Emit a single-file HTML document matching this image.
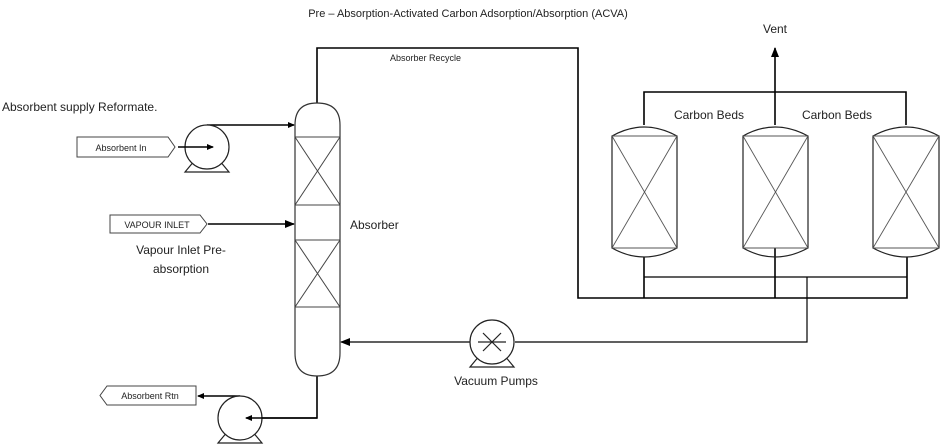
<!DOCTYPE html>
<html><head><style>
html,body{margin:0;padding:0;background:#fff;}
svg{display:block;}
text{font-family:"Liberation Sans",Arial,sans-serif;fill:#222;}
</style></head><body>
<svg width="940" height="446" viewBox="0 0 940 446" xmlns="http://www.w3.org/2000/svg">
<defs>
<marker id="ar" markerWidth="10" markerHeight="8" refX="9" refY="4" orient="auto" markerUnits="userSpaceOnUse">
<path d="M0,0 L10,4 L0,8 z" fill="#000"/></marker>
<marker id="as" markerWidth="7" markerHeight="6" refX="6" refY="3" orient="auto" markerUnits="userSpaceOnUse">
<path d="M0,0 L7,3 L0,6 z" fill="#000"/></marker>
</defs>
<text x="468" y="17" font-size="11" text-anchor="middle">Pre – Absorption-Activated Carbon Adsorption/Absorption (ACVA)</text>
<g fill="none" stroke="#000" stroke-width="1.6">
<polyline points="317,103 317,48 578,48 578,298 907,298 907,257"/>
<line x1="644" y1="298" x2="644" y2="257"/>
<line x1="775" y1="298" x2="775" y2="248"/>
<polyline points="644,125 644,92 906,92 906,125"/>
<line x1="775" y1="125" x2="775" y2="48" marker-end="url(#ar)"/>
<polyline points="317,376 317,418 246,418" marker-end="url(#as)"/>
<line x1="240" y1="396" x2="198" y2="396" marker-end="url(#as)"/>
<line x1="207" y1="125" x2="294" y2="125" marker-end="url(#as)"/>
<line x1="208" y1="224" x2="294" y2="224" marker-end="url(#ar)"/>
</g>
<g fill="none" stroke="#000" stroke-width="1.2">
<polyline points="644,277 907,277"/>
<polyline points="807,277 807,342 515,342"/>
<line x1="470" y1="342" x2="341" y2="342" marker-end="url(#ar)"/>
</g>
<g fill="#fff" stroke="#333" stroke-width="1.2">
<path d="M295,125 Q295,103 317,103 Q340,103 340,125 L340,353 Q340,376 317,376 Q295,376 295,353 Z"/>
</g>
<g stroke="#444" stroke-width="1" fill="none">
<line x1="295" y1="137" x2="340" y2="137"/><line x1="295" y1="205" x2="340" y2="205"/>
<line x1="295" y1="137" x2="340" y2="205"/><line x1="340" y1="137" x2="295" y2="205"/>
<line x1="295" y1="240" x2="340" y2="240"/><line x1="295" y1="307" x2="340" y2="307"/>
<line x1="295" y1="240" x2="340" y2="307"/><line x1="340" y1="240" x2="295" y2="307"/>
</g>
<g stroke="#222" stroke-width="1.2" fill="none">
<path d="M612,136 Q644,118 677,136 L677,248 Q644,266 612,248 Z"/>
<path d="M743,136 Q775,118 808,136 L808,248 Q775,266 743,248 Z"/>
<path d="M873,136 Q906,118 939,136 L939,248 Q906,266 873,248 Z"/>
</g>
<g stroke="#555" stroke-width="0.9">
<line x1="612" y1="136" x2="677" y2="136"/><line x1="612" y1="248" x2="677" y2="248"/>
<line x1="612" y1="136" x2="677" y2="248"/><line x1="677" y1="136" x2="612" y2="248"/>
<line x1="743" y1="136" x2="808" y2="136"/><line x1="743" y1="248" x2="808" y2="248"/>
<line x1="743" y1="136" x2="808" y2="248"/><line x1="808" y1="136" x2="743" y2="248"/>
<line x1="873" y1="136" x2="939" y2="136"/><line x1="873" y1="248" x2="939" y2="248"/>
<line x1="873" y1="136" x2="939" y2="248"/><line x1="939" y1="136" x2="873" y2="248"/>
</g>
<g stroke="#222" stroke-width="1.2" fill="none">
<path d="M195,160 L185,172 L229,172 L219,160"/>
<circle cx="207" cy="147" r="22" fill="#fff"/>
<path d="M228,431 L218,443 L262,443 L252,431"/>
<circle cx="240" cy="418" r="22" fill="#fff"/>
<path d="M480,355 L470,367 L514,367 L504,355"/>
<circle cx="492" cy="342" r="22" fill="#fff"/>
<line x1="478" y1="342" x2="506" y2="342"/>
<line x1="483" y1="333" x2="501" y2="351"/><line x1="501" y1="333" x2="483" y2="351"/>
</g>
<g fill="none" stroke="#000" stroke-width="1.6">
<line x1="178" y1="147" x2="213" y2="147" marker-end="url(#as)"/>
<line x1="317" y1="418" x2="246" y2="418" marker-end="url(#as)"/>
</g>
<g fill="#fff" stroke="#444" stroke-width="1">
<path d="M77,137 L168,137 L175,147 L168,157 L77,157 Z"/>
<path d="M110,215 L200,215 L207,224 L200,233 L110,233 Z"/>
<path d="M107,386 L196,386 L196,405 L107,405 L100,395.5 Z"/>
</g>
<text x="121" y="151" font-size="9" text-anchor="middle">Absorbent In</text>
<text x="157" y="228" font-size="9" text-anchor="middle">VAPOUR INLET</text>
<text x="150" y="399" font-size="9" text-anchor="middle">Absorbent Rtn</text>
<text x="2" y="111" font-size="12">Absorbent supply Reformate.</text>
<text x="181" y="254" font-size="12" text-anchor="middle">Vapour Inlet Pre-</text>
<text x="181" y="273" font-size="12" text-anchor="middle">absorption</text>
<text x="350" y="229" font-size="12">Absorber</text>
<text x="390" y="61" font-size="9">Absorber Recycle</text>
<text x="775" y="33" font-size="12" text-anchor="middle">Vent</text>
<text x="709" y="119" font-size="12" text-anchor="middle">Carbon Beds</text>
<text x="837" y="119" font-size="12" text-anchor="middle">Carbon Beds</text>
<text x="496" y="385" font-size="12" text-anchor="middle">Vacuum Pumps</text>
</svg>
</body></html>
